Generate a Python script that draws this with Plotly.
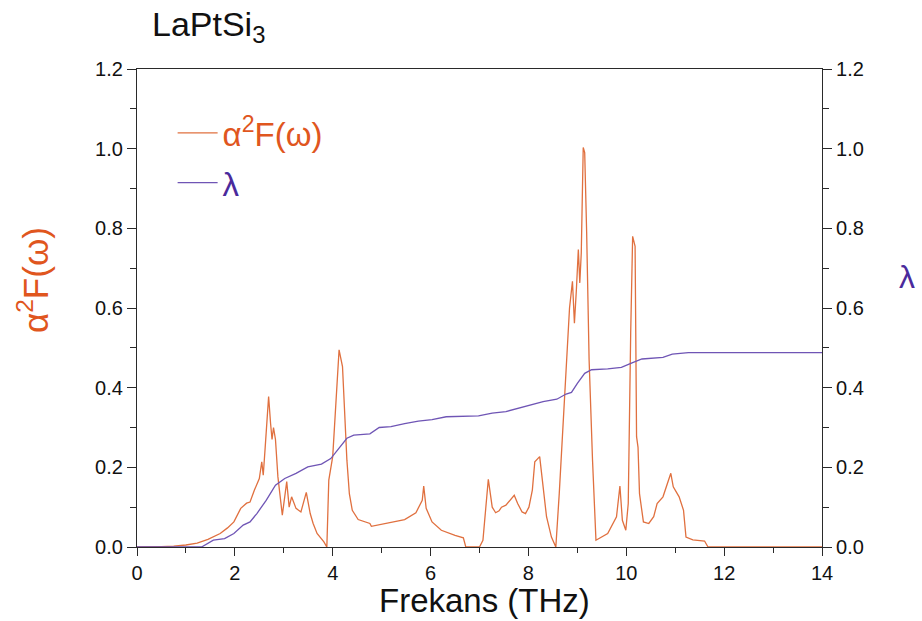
import plotly.graph_objects as go

# Eliashberg spectral function alpha^2 F(omega) of LaPtSi3 (frequency in THz)
freq_a2f = [0.0, 0.3, 0.5, 0.75, 1.0, 1.23, 1.45, 1.7, 1.85, 1.98, 2.12, 2.24, 2.31, 2.4, 2.5,
            2.55, 2.58, 2.62, 2.69, 2.73, 2.76, 2.79, 2.83, 2.88, 2.97, 3.06, 3.11, 3.16,
            3.25, 3.35, 3.46, 3.54, 3.6, 3.68, 3.82, 3.88, 3.92, 4.0, 4.07, 4.13, 4.2, 4.24,
            4.29, 4.34, 4.4, 4.52, 4.67, 4.76, 4.79, 5.09, 5.47, 5.7, 5.83, 5.86, 5.91,
            6.03, 6.22, 6.5, 6.67, 6.72, 7.0, 7.07, 7.15, 7.18, 7.26, 7.33, 7.4, 7.45, 7.54,
            7.64, 7.71, 7.78, 7.87, 7.94, 8.01, 8.08, 8.13, 8.23, 8.3, 8.37, 8.47, 8.56,
            8.63, 8.72, 8.79, 8.84, 8.9, 8.94, 8.98, 9.02, 9.05, 9.08, 9.12, 9.15, 9.19,
            9.24, 9.31, 9.38, 9.62, 9.8, 9.87, 9.92, 9.99, 10.04, 10.09, 10.13, 10.18,
            10.21, 10.24, 10.27, 10.35, 10.46, 10.56, 10.63, 10.75, 10.84, 10.91, 10.96,
            11.08, 11.17, 11.22, 11.36, 11.6, 11.67, 14.0]
a2f = [0.0, 0.0, 0.001, 0.002, 0.005, 0.01, 0.019, 0.034, 0.048, 0.063, 0.097, 0.11, 0.113,
       0.143, 0.172, 0.214, 0.18, 0.25, 0.378, 0.31, 0.27, 0.30, 0.27, 0.176, 0.08, 0.164,
       0.10, 0.126, 0.097, 0.088, 0.137, 0.084, 0.059, 0.034, 0.013, 0.0, 0.168, 0.227,
       0.386, 0.495, 0.453, 0.344, 0.218, 0.134, 0.092, 0.069, 0.063, 0.059, 0.052, 0.059,
       0.069, 0.086, 0.117, 0.153, 0.097, 0.063, 0.042, 0.029, 0.023, 0.0, 0.0, 0.017,
       0.117, 0.17, 0.10, 0.086, 0.091, 0.10, 0.105, 0.12, 0.13, 0.109, 0.088, 0.084, 0.10,
       0.143, 0.214, 0.227, 0.151, 0.076, 0.025, 0.0, 0.134, 0.344, 0.495, 0.60, 0.667,
       0.562, 0.646, 0.747, 0.663, 0.738, 1.003, 0.99, 0.79, 0.47, 0.218, 0.017, 0.034,
       0.076, 0.153, 0.067, 0.042, 0.109, 0.537, 0.78, 0.755, 0.277, 0.25, 0.134, 0.063,
       0.059, 0.076, 0.109, 0.126, 0.16, 0.185, 0.151, 0.126, 0.092, 0.025, 0.018, 0.015,
       0.0, 0.0]

# Cumulative electron-phonon coupling constant lambda(omega)
freq_lam = [0.0, 1.32, 1.56, 1.79, 1.98, 2.17, 2.31, 2.45, 2.64, 2.83, 3.02, 3.25, 3.49, 3.77,
            3.96, 4.15, 4.29, 4.43, 4.76, 4.95, 5.19, 5.47, 5.75, 6.03, 6.32, 6.98, 7.26,
            7.54, 7.92, 8.3, 8.58, 8.77, 8.88, 9.0, 9.15, 9.29, 9.62, 9.9, 10.13, 10.32,
            10.75, 10.94, 11.27, 14.0]
lam = [0.0, 0.0, 0.017, 0.021, 0.034, 0.055, 0.063, 0.084, 0.117, 0.155, 0.172, 0.185, 0.201,
       0.208, 0.222, 0.252, 0.273, 0.281, 0.284, 0.30, 0.302, 0.31, 0.316, 0.32, 0.327, 0.329,
       0.336, 0.34, 0.352, 0.365, 0.371, 0.384, 0.388, 0.411, 0.436, 0.445, 0.447, 0.451,
       0.463, 0.472, 0.476, 0.484, 0.488, 0.488]

x_ticks = [0, 2, 4, 6, 8, 10, 12, 14]
y_ticks = [0.0, 0.2, 0.4, 0.6, 0.8, 1.0, 1.2]

ORANGE_LINE = "#E0703F"
ORANGE_TEXT = "#E0561E"
PURPLE_LINE = "#6F55B5"
PURPLE_TEXT = "#4A2A9C"
AXIS = "#2a2a2a"
FONT = "Liberation Sans, Arial, sans-serif"

fig = go.Figure()
fig.add_trace(go.Scatter(
    x=freq_a2f, y=a2f, mode="lines",
    line=dict(color=ORANGE_LINE, width=1.3),
    name=f"<span style='color:{ORANGE_TEXT}'>α<sup>2</sup>F(ω)</span>",
    legendgroup="a", yaxis="y"))
fig.add_trace(go.Scatter(
    x=freq_lam, y=lam, mode="lines",
    line=dict(color=PURPLE_LINE, width=1.3),
    name=f"<span style='color:{PURPLE_TEXT}'>λ</span>",
    legendgroup="b", yaxis="y2"))

axis_common = dict(
    showline=True, linecolor=AXIS, linewidth=1.2,
    ticks="outside", tickwidth=1.2, tickcolor=AXIS,
    showgrid=False, zeroline=False,
    tickfont=dict(family=FONT, size=20, color="#111"),
)

fig.update_layout(
    width=922, height=621,
    margin=dict(l=137, r=100, t=69, b=74),
    paper_bgcolor="white", plot_bgcolor="white",
    font=dict(family=FONT),
    showlegend=True,
    legend=dict(
        x=0.052, y=0.925, xanchor="left", yanchor="top",
        bgcolor="rgba(0,0,0,0)", font=dict(family=FONT, size=33),
        traceorder="grouped", tracegroupgap=4, itemwidth=40,
    ),
    xaxis=dict(
        range=[0, 14], tickvals=x_ticks, mirror=True, ticklen=8, ticklabelstandoff=0,
        minor=dict(dtick=1, ticks="outside", ticklen=5, tickwidth=1.2, tickcolor=AXIS),
        **axis_common,
    ),
    yaxis=dict(
        range=[0, 1.2], tickvals=y_ticks, tickformat=".1f", ticklen=9,
        minor=dict(dtick=0.1, ticks="outside", ticklen=6, tickwidth=1.2, tickcolor=AXIS),
        **axis_common,
    ),
    yaxis2=dict(
        range=[0, 1.2], tickvals=y_ticks, tickformat=".1f", ticklen=9,
        overlaying="y", side="right",
        minor=dict(dtick=0.1, ticks="outside", ticklen=6, tickwidth=1.2, tickcolor=AXIS),
        **axis_common,
    ),
    annotations=[
        dict(text="LaPtSi<sub>3</sub>", xref="paper", yref="paper",
             x=(150 - 137) / 685, y=(547 - 26) / 478, xanchor="left", yanchor="middle",
             showarrow=False, font=dict(family=FONT, size=34, color="#111")),
        dict(text="Frekans (THz)", xref="paper", yref="paper",
             x=(485 - 137) / 685, y=(547 - 620) / 478, xanchor="center", yanchor="bottom",
             borderpad=0, showarrow=False, font=dict(family=FONT, size=33, color="#111")),
        dict(text="α<sup>2</sup>F(ω)", xref="paper", yref="paper", textangle=-90,
             x=(33 - 137) / 685, y=(547 - 280) / 478, xanchor="center", yanchor="middle",
             showarrow=False, font=dict(family=FONT, size=35, color=ORANGE_TEXT)),
        dict(text="λ", xref="paper", yref="paper",
             x=(907 - 137) / 685, y=(547 - 277) / 478, xanchor="center", yanchor="middle",
             showarrow=False, font=dict(family=FONT, size=32, color=PURPLE_TEXT)),
    ],
)

fig.write_html("out.html")
